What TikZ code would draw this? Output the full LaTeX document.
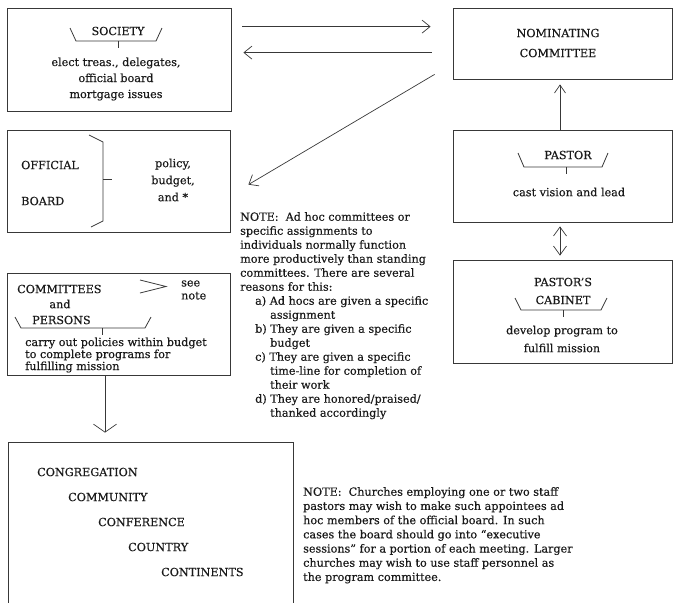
\documentclass[tikz,border=0pt]{standalone}
\usepackage{fontspec}
\setmainfont{DejaVu Serif}
\newfontfamily\chartfont{DejaVu Serif}[FakeBold=0.4, Ligatures=TeX]
\usepackage{tikz}
\usetikzlibrary{arrows.meta}
\colorlet{line-color}{black!78}
\colorlet{text-color}{black!90}
\tikzset{
    pics/tab/.style n args = {3}{
        code = {%
        % #1 half width, #2 height, #3 offset of the tick
        \draw[line-color, line width=0.8pt] (-#1-6,-#2) -- (-#1,0) -- (#1,0) -- (#1+6,-#2);
        \draw[line-color, line width=0.8pt] (#3,0) -- (#3,7);
        }
    },
    box/.style = {draw=line-color, line width=0.8pt, inner sep=0pt},
    txt/.style = {inner sep=0pt, text=text-color, font=\chartfont\fontsize{11.2}{16}\selectfont},
    arr/.style = {line-color, line width=0.7pt, -{Straight Barb[length=8pt, width=13pt]}}
}

\begin{document}
\begin{tikzpicture}[x=1pt, y=-1pt]
\useasboundingbox (0,0) rectangle (673,603);
\clip (0,0) rectangle (673,603);

%boxes
\node[box, minimum width=224, minimum height=103] (society) at (119,59.5) {};
\node[box, minimum width=223, minimum height=102] (board) at (118.5,181) {};
\node[box, minimum width=223, minimum height=102] (cmte) at (118.5,324) {};
\node[box, minimum width=285, minimum height=200] (world) at (150.5,542) {};
\node[box, minimum width=219, minimum height=71] (nomin) at (562.5,43.5) {};
\node[box, minimum width=219, minimum height=92] (pastor) at (562.5,176) {};
\node[box, minimum width=219, minimum height=103] (cabinet) at (562.5,311.5) {};

%society
\node[txt] (society-title) at (118,31) {SOCIETY};
\pic at (116,41) {tab={40}{13}{2}};
\node[txt, align=center] (society-text) at (116,79) {elect treas., delegates,\\official board\\mortgage issues};

%official board
\node[txt, anchor=west] (board-a) at (21,165) {OFFICIAL};
\node[txt, anchor=west] (board-b) at (21,201) {BOARD};
\draw[line-color, line width=0.8pt] (89,135) -- (103,142) -- (103,221) -- (91,227);
\draw[line-color, line width=0.8pt] (103,179) -- (112,179);
\node[txt, align=center, font=\chartfont\fontsize{11.2}{17}\selectfont] (board-text) at (173,180) {policy,\\budget,\\and *};

%committees and persons
\node[txt, anchor=west] (cmte-a) at (17,289) {COMMITTEES};
\node[txt] (cmte-b) at (60,304) {and};
\node[txt, anchor=west] (cmte-c) at (32,320) {PERSONS};
\pic at (83,328) {tab={62}{11}{19}};
\draw[line-color, line width=0.8pt] (140,280) -- (166,286.5) -- (140,293);
\node[txt, anchor=west, align=left, font=\chartfont\fontsize{11.2}{13}\selectfont] (see-note) at (181,290) {see\\note};
\node[txt, anchor=west, align=left, font=\chartfont\fontsize{11.2}{12}\selectfont] (cmte-text) at (25,355) {carry out policies within budget\\to complete programs for\\fulfilling mission};

%the world
\node[txt, anchor=west] (w1) at (37,472) {CONGREGATION};
\node[txt, anchor=west] (w2) at (68,497) {COMMUNITY};
\node[txt, anchor=west] (w3) at (98,522) {CONFERENCE};
\node[txt, anchor=west] (w4) at (128,547) {COUNTRY};
\node[txt, anchor=west] (w5) at (161,572) {CONTINENTS};

%nominating committee
\node[txt, align=center, font=\chartfont\fontsize{11.2}{20}\selectfont] (nomin-text) at (558,43) {NOMINATING\\COMMITTEE};

%pastor
\node[txt] (pastor-title) at (568,155) {PASTOR};
\pic at (563,167) {tab={39}{14}{3}};
\node[txt] (pastor-text) at (569,192) {cast vision and lead};

%pastor's cabinet
\node[txt, align=center, font=\chartfont\fontsize{11.2}{18}\selectfont] (cabinet-title) at (563,291) {PASTOR’S\\CABINET};
\pic at (561,310) {tab={40}{12}{2}};
\node[txt, align=center, font=\chartfont\fontsize{11.2}{18}\selectfont] (cabinet-text) at (562,339) {develop program to\\fulfill mission};

%notes
\node[txt, anchor=north west, align=left, font=\chartfont\fontsize{11.2}{14}\selectfont] (note-a) at (240,212) {%
NOTE:\ \ Ad hoc committees or\\
specific assignments to\\
individuals normally function\\
more productively than standing\\
committees. There are several\\
reasons for this:\\
\hspace*{15pt}a)~Ad hocs are given a specific\\
\hspace*{30pt}assignment\\
\hspace*{15pt}b)~They are given a specific\\
\hspace*{30pt}budget\\
\hspace*{15pt}c)~They are given a specific\\
\hspace*{30pt}time-line for completion of\\
\hspace*{30pt}their work\\
\hspace*{15pt}d)~They are honored/praised/\\
\hspace*{30pt}thanked accordingly};
\node[txt, anchor=north west, align=left, font=\chartfont\fontsize{11.2}{14.2}\selectfont] (note-b) at (303,487) {%
NOTE:\ \ Churches employing one or two staff\\
pastors may wish to make such appointees ad\\
hoc members of the official board. In such\\
cases the board should go into “executive\\
sessions” for a portion of each meeting. Larger\\
churches may wish to use staff personnel as\\
the program committee.};

%arrows
\draw[arr] ([xshift=11pt, yshift=-19pt]society.north east) -- ([xshift=-22pt, yshift=-19pt]nomin.north west);
\draw[arr] ([xshift=-21pt, yshift=-45pt]nomin.north west) -- ([xshift=12pt, yshift=-45pt]society.north east);
\draw[arr] ([xshift=-18pt, yshift=5pt]nomin.south west) -- ([xshift=18pt, yshift=-55pt]board.north east);
\draw[arr, -{Straight Barb[length=8pt, width=23pt]}] ([xshift=-13.5pt]cmte.south) -- ([xshift=-45.5pt, yshift=9pt]world.north);
\draw[arr, -{Straight Barb[length=8pt, width=11pt]}] ([xshift=-2.5pt]pastor.north) -- ([xshift=-2.5pt, yshift=-5pt]nomin.south);
\draw[arr, {Straight Barb[length=9pt, width=13pt]}-{Straight Barb[length=9pt, width=13pt]}] ([xshift=-2.5pt, yshift=-4pt]pastor.south) -- ([xshift=-2.5pt, yshift=4pt]cabinet.north);
\end{tikzpicture}
\end{document}
